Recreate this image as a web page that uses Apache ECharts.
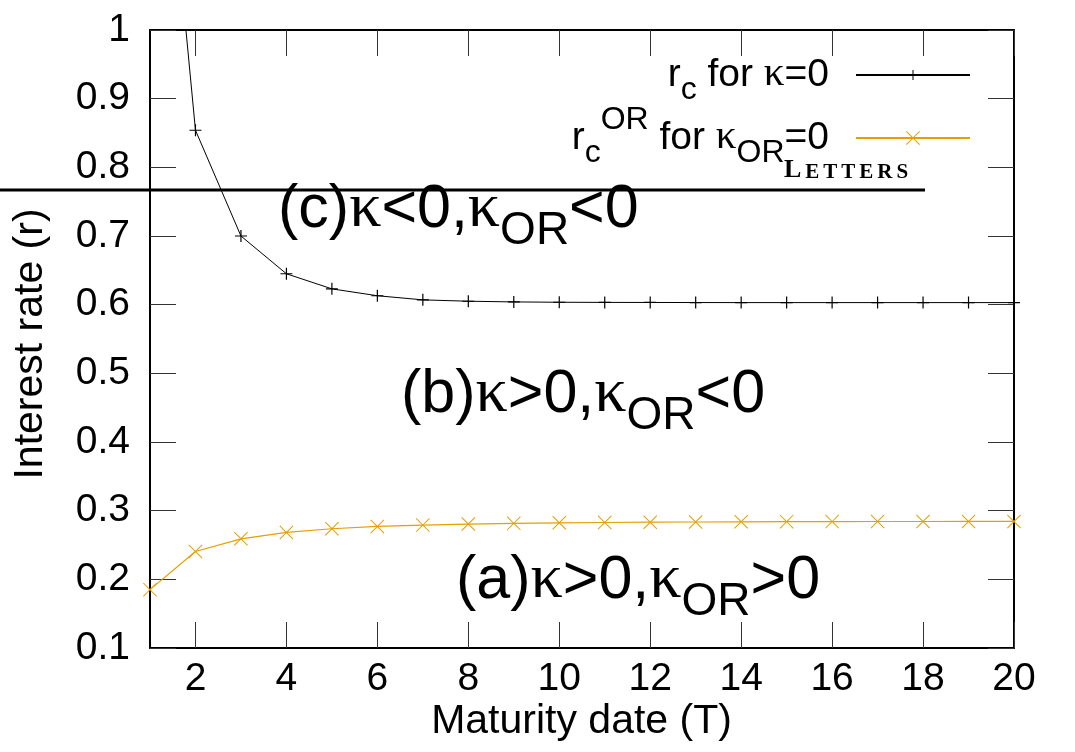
<!DOCTYPE html>
<html><head><meta charset="utf-8">
<script src="https://cdn.jsdelivr.net/npm/echarts@6/dist/echarts.min.js"></script>
<style>html,body{margin:0;padding:0;background:#fff}#c{width:1075px;height:752px}</style>
</head><body><div id="c"></div>
<script>
// ---- data ----
const maturity = [1,2,3,4,5,6,7,8,9,10,11,12,13,14,15,16,17,18,19,20];
const rcKappa0 = [1.55,0.854,0.700,0.645,0.623,0.613,0.607,0.605,0.604,0.6035,0.6033,0.6032,0.6031,0.603,0.603,0.603,0.603,0.603,0.603,0.603];
const rcOR = [0.185,0.2406,0.259,0.2683,0.2737,0.277,0.279,0.2805,0.2815,0.2823,0.2828,0.2832,0.2835,0.2838,0.284,0.2841,0.2842,0.2842,0.2843,0.2843];
const xTicks = [2,4,6,8,10,12,14,16,18,20];
const yMin = 0.1, yMax = 1, yStep = 0.1;
const legendNames = ['rc', 'rcOR'];

const SANS = 'Liberation Sans';
const SERIF = 'Liberation Serif';
const PLUS = 'path://M-1,-10 L1,-10 L1,-1 L10,-1 L10,1 L1,1 L1,10 L-1,10 L-1,1 L-10,1 L-10,-1 L-1,-1 Z';
const CROSS = 'path://M-10,-9 L-9,-10 L0,-1 L9,-10 L10,-9 L1,0 L10,9 L9,10 L0,1 L-9,10 L-10,9 L-1,0 Z';
const ORANGE = '#E69F00';

// legend rich styles (main 39, sub/sup 32)
const legRich = {
  m: {fontFamily: SANS, fontSize: 39, lineHeight: 39, padding: [22,0,22,0], color: '#000'},
  k: {fontFamily: SERIF, fontSize: 41, lineHeight: 41, padding: [20.7,0,21.3,0], color: '#000'},
  s: {fontFamily: SANS, fontSize: 32, lineHeight: 32, padding: [40.4,0,10.6,0], color: '#000'},
  p: {fontFamily: SANS, fontSize: 32, lineHeight: 32, padding: [7.9,0,43.1,0], color: '#000'},
  e: {fontFamily: SANS, fontSize: 39, lineHeight: 39, padding: [22,22,22,0], color: '#000'}
};
// annotation rich styles (main 61, sub 46)
const annRich = {
  m: {fontFamily: SANS, fontSize: 61, lineHeight: 61, padding: [30,0,30,0], fill: '#000'},
  k: {fontFamily: SERIF, fontSize: 64, lineHeight: 64, padding: [28,0,29,0], fill: '#000'},
  s: {fontFamily: SANS, fontSize: 46, lineHeight: 46, padding: [58.7,0,16.3,0], fill: '#000'}
};
const lettersRich = {
  L: {fontFamily: SERIF, fontWeight: 'bold', fontSize: 26, lineHeight: 26, padding: [2,4,2,0], fill: '#000'},
  t: {fontFamily: SERIF, fontWeight: 'bold', fontSize: 21, lineHeight: 21, padding: [6.2,4,2.8,0], fill: '#000'},
  u: {fontFamily: SERIF, fontWeight: 'bold', fontSize: 21, lineHeight: 21, padding: [6.2,0,2.8,0], fill: '#000'}
};

const chart = echarts.init(document.getElementById('c'));
const tickStyle = {show: true, inside: true, length: 26, lineStyle: {color: '#333', width: 1}};
const lineAxis = {show: true, onZero: false, lineStyle: {color: '#000', width: 2}};

const option = {
  backgroundColor: '#fff',
  animation: false,
  grid: {left: 150, right: 61, top: 30, bottom: 104, containLabel: false},
  xAxis: [
    {type: 'value', min: 1, max: 20, position: 'bottom',
     axisLine: lineAxis,
     axisTick: Object.assign({}, tickStyle, {customValues: xTicks}),
     axisLabel: {customValues: xTicks, fontFamily: SANS, fontSize: 39, color: '#000', margin: 12},
     splitLine: {show: false}},
    {type: 'value', min: 1, max: 20, position: 'top',
     axisLine: lineAxis,
     axisTick: Object.assign({}, tickStyle, {customValues: xTicks}),
     axisLabel: {show: false, customValues: xTicks},
     splitLine: {show: false}}
  ],
  yAxis: [
    {type: 'value', min: yMin, max: yMax, interval: yStep, position: 'left',
     axisLine: lineAxis, axisTick: tickStyle,
     axisLabel: {fontFamily: SANS, fontSize: 39, color: '#000', margin: 20,
       formatter: v => (Math.abs(v - 1) < 1e-9 ? '1' : v.toFixed(1))},
     splitLine: {show: false}},
    {type: 'value', min: yMin, max: yMax, interval: yStep, position: 'right',
     axisLine: lineAxis, axisTick: tickStyle,
     axisLabel: {show: false}, splitLine: {show: false}}
  ],
  legend: [
    {data: [legendNames[0]], right: 104, top: 33.5, orient: 'vertical', align: 'right',
     itemWidth: 114, itemHeight: 12.5, padding: 0, selectedMode: false,
     formatter: () => '{m|r}{s|c}{m| for }{k|κ}{e|=0}',
     textStyle: {rich: legRich}},
    {data: [legendNames[1]], right: 104, top: 96.5, orient: 'vertical', align: 'right',
     itemWidth: 114, itemHeight: 17.5, padding: 0, selectedMode: false,
     formatter: () => '{m|r}{s|c}{p|OR}{m| for }{k|κ}{s|OR}{e|=0}',
     textStyle: {rich: legRich}}
  ],
  series: [
    {name: legendNames[0], type: 'line', data: maturity.map((x, i) => [x, rcKappa0[i]]),
     symbol: PLUS, symbolSize: 12, clip: true,
     itemStyle: {color: '#000'}, lineStyle: {color: '#000', width: 1}},
    {name: legendNames[1], type: 'line', data: maturity.map((x, i) => [x, rcOR[i]]),
     symbol: CROSS, symbolSize: 14, clip: true,
     itemStyle: {color: ORANGE}, lineStyle: {color: ORANGE, width: 1.2}}
  ],
  graphic: [
    {type: 'line', shape: {x1: 0, y1: 190, x2: 925, y2: 190}, style: {stroke: '#000', lineWidth: 3}, z: 10},
    {type: 'text', x: 278, y: 210, z: 10,
     style: {text: '{m|(c)}{k|κ}{m|<0,}{k|κ}{s|OR}{m|<0}', rich: annRich, align: 'left', verticalAlign: 'middle'}},
    {type: 'text', x: 401, y: 395, z: 10,
     style: {text: '{m|(b)}{k|κ}{m|>0,}{k|κ}{s|OR}{m|<0}', rich: annRich, align: 'left', verticalAlign: 'middle'}},
    {type: 'text', x: 456, y: 581, z: 10,
     style: {text: '{m|(a)}{k|κ}{m|>0,}{k|κ}{s|OR}{m|>0}', rich: annRich, align: 'left', verticalAlign: 'middle'}},
    {type: 'text', x: 784, y: 170.7, z: 10,
     style: {text: '{L|L}{t|E}{t|T}{t|T}{t|E}{t|R}{u|S}', rich: lettersRich, align: 'left', verticalAlign: 'middle'}},
    {type: 'text', x: 581.5, y: 722, z: 10,
     style: {text: 'Maturity date (T)', fontFamily: SANS, fontSize: 41, fill: '#000', align: 'center', verticalAlign: 'middle'}},
    {type: 'text', x: 31, y: 344, rotation: Math.PI / 2, z: 10,
     style: {text: 'Interest rate (r)', fontFamily: SANS, fontSize: 41, fill: '#000', align: 'center', verticalAlign: 'middle'}}
  ]
};
chart.setOption(option);
</script>
</body></html>
